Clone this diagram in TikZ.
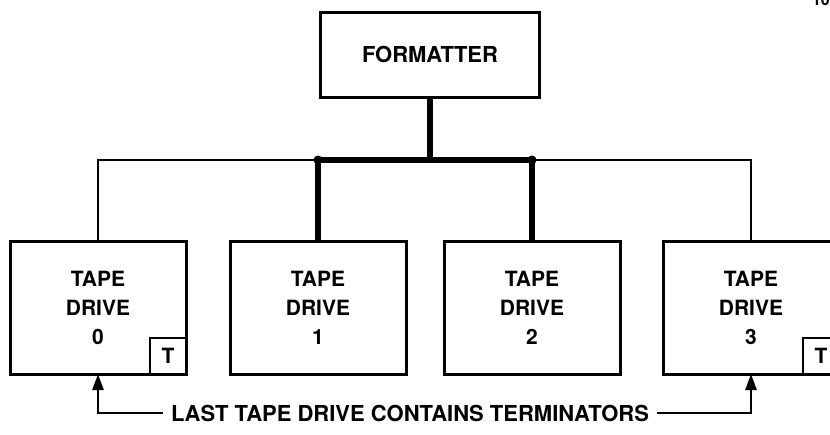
\documentclass[tikz,border=0pt]{standalone}
\usepackage{fontspec}
\setmainfont{TeX Gyre Heros}
\usetikzlibrary{arrows.meta}
\begin{document}
\begin{tikzpicture}[
  x=1pt, y=-1pt,
  every node/.style={font=\bfseries\fontsize{21}{29}\selectfont, inner sep=0pt, outer sep=0pt},
  unitbox/.style={draw, line width=3pt, minimum width=176pt, minimum height=133pt, align=center},
  termbox/.style={draw, line width=2.5pt, minimum size=36pt},
  busline/.style={draw, line width=2.5pt},
  trunk/.style={draw, line width=6pt},
  pointer/.style={draw, line width=2.5pt, -{Triangle[length=16pt,width=11pt]}}
]
\useasboundingbox (0,0) rectangle (830,434);
\node[unitbox, minimum width=219pt, minimum height=85pt, font=\bfseries\fontsize{22}{26}\selectfont] (formatter) at (430,54.5) {FORMATTER};
\node[unitbox] (drive0) at (98,307.5) {TAPE\\DRIVE\\0};
\node[unitbox] (drive1) at (318,307.5) {TAPE\\DRIVE\\1};
\node[unitbox] (drive2) at (532,307.5) {TAPE\\DRIVE\\2};
\node[unitbox] (drive3) at (751,307.5) {TAPE\\DRIVE\\3};
\node[termbox, anchor=south east] (term0) at (drive0.south east) {T};
\node[termbox, anchor=south east] (term3) at (drive3.south east) {T};
\node[inner sep=8pt, font=\bfseries\fontsize{22}{26}\selectfont] (note) at (410,413) {LAST TAPE DRIVE CONTAINS TERMINATORS};
\node[anchor=base west, font=\bfseries\fontsize{16}{18}\selectfont] (fignum) at (812,5) {10};
\coordinate (bus) at (430,160);

\draw[busline] (drive0.north) -- (drive0.north |- bus) -- (drive3.north |- bus) -- (drive3.north);
\draw[trunk] (drive1.north) -- (drive1.north |- bus) -- (drive2.north |- bus) -- (drive2.north);
\draw[trunk] (formatter.south) -- (formatter.south |- bus);
\fill (drive1.north |- bus) circle (4.5pt);
\fill (drive2.north |- bus) circle (4.5pt);
\draw[pointer] (note.west) -| (drive0.south);
\draw[pointer] (note.east) -| (drive3.south);
\end{tikzpicture}
\end{document}
